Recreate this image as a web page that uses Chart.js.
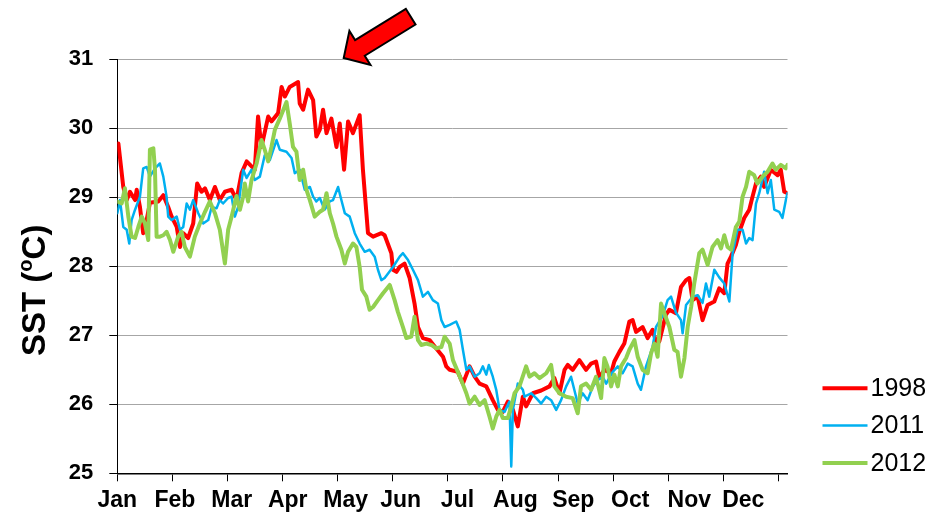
<!DOCTYPE html>
<html>
<head>
<meta charset="utf-8">
<script src="https://cdn.jsdelivr.net/npm/chart.js@4.4.1/dist/chart.umd.min.js"></script>
<style>
html,body{margin:0;padding:0;background:#fff;}
#wrap{width:944px;height:512px;position:relative;}
</style>
</head>
<body>
<div id="wrap"><canvas id="c"></canvas></div>
<script>
// ---- data ----
const monthLabels = ['Jan','Feb','Mar','Apr','May','Jun','Jul','Aug','Sep','Oct','Nov','Dec'];
const monthStartDays = [0,30.42,60.83,91.25,121.67,152.08,182.5,212.92,243.33,273.75,304.17,334.58,365];
const monthLabelDays = [0,31.8,63.2,94.1,126.1,156.4,187.8,219.8,251.7,283.2,315.8,345.6];
const yTicks = [25,26,27,28,29,30,31];
const seriesNames = ['1998','2011','2012'];
const seriesColors = ['#ff0000','#00b0f0','#92d050'];
const arrowTip = {x:125, y:31.02};

const days1998 = [0.6,3.3,5.2,7.0,9.8,10.7,12.5,14.3,16.2,18.0,
22.6,25.4,28.1,30.0,32.8,34.6,36.4,39.1,41.9,44.1,
46.5,48.4,51.1,53.9,56.6,59.4,63.1,65.8,68.6,71.4,
75.9,77.7,79.6,83.3,85.1,88.8,90.7,92.5,95.2,99.8,
100.7,102.6,105.3,108.1,109.9,111.8,113.6,115.5,118.2,121.0,
122.8,125.2,127.4,130.1,133.8,135.6,138.4,141.2,145.8,147.6,
151.3,152.2,154.1,155.9,158.6,161.4,164.1,166.0,168.7,172.4,
176.1,179.8,181.6,183.5,188.0,190.8,194.5,197.3,200.0,203.7,
207.3,210.1,212.8,215.6,218.4,221.1,223.9,225.7,229.4,234.0,
238.6,241.3,244.1,246.9,248.7,251.4,255.1,258.8,261.6,264.3,
266.2,268.9,272.6,274.4,277.2,279.9,282.7,284.5,286.4,290.0,
292.8,295.5,297.4,299.2,302.9,304.8,308.4,311.2,314.0,315.8,
317.6,320.4,323.1,325.9,329.6,332.3,335.1,336.9,338.8,341.5,
343.4,346.1,348.9,350.7,352.6,355.3,357.1,360.8,364.5,366.3,
368.2,370.0];
const sst1998 = [29.78,29.15,28.96,29.08,28.96,29.11,28.86,28.48,28.67,28.92,
28.94,29.03,28.86,28.72,28.57,28.28,28.48,28.41,28.62,29.20,
29.08,29.13,28.96,29.15,28.96,29.08,29.11,28.96,29.35,29.52,
29.40,30.17,29.73,30.17,30.10,30.22,30.60,30.46,30.60,30.67,
30.36,30.27,30.56,30.41,29.88,29.98,30.27,29.93,30.14,29.73,
30.07,29.40,30.10,29.93,30.19,29.40,28.48,28.43,28.48,28.45,
28.19,27.95,27.92,27.99,28.04,27.83,27.46,27.12,26.96,26.93,
26.81,26.69,26.55,26.50,26.47,26.30,26.55,26.40,26.30,26.26,
26.06,25.92,25.89,26.04,25.92,25.68,26.11,25.97,26.16,26.20,
26.26,26.38,26.16,26.50,26.57,26.50,26.64,26.50,26.59,26.62,
26.38,26.50,26.45,26.62,26.76,26.88,27.20,27.22,27.05,27.12,
26.96,27.08,26.91,26.91,27.30,27.37,27.32,27.70,27.80,27.83,
27.51,27.56,27.22,27.44,27.49,27.68,27.61,28.04,28.14,28.31,
28.50,28.70,28.82,29.01,29.20,29.30,29.15,29.40,29.32,29.40,
29.08,29.06];

const days2011 = [0,1.5,3.3,5.2,6.6,7.9,9.8,12.5,14.3,16.2,
18.0,20.8,23.5,25.4,27.2,28.1,30.0,32.8,34.6,36.4,
38.3,40.1,41.9,44.7,47.4,50.2,52.1,54.8,56.6,58.4,
61.2,63.1,64.9,66.7,69.5,71.4,74.1,75.9,78.7,81.4,
84.2,87.9,89.7,93.4,96.2,98.0,100.7,103.5,106.3,108.1,
109.9,111.8,114.5,117.3,119.1,121.9,123.7,125.6,128.3,131.1,
133.8,136.6,139.3,142.1,143.9,145.8,147.6,152.2,155.9,157.7,
160.5,163.2,166.0,168.7,171.5,174.2,177.0,178.9,180.7,183.5,
187.1,189.0,190.8,192.7,194.5,197.3,200.0,201.8,203.7,205.1,
207.3,209.2,211.0,213.8,216.5,217.5,218.4,221.1,223.9,224.8,
228.5,231.3,234.0,236.8,239.5,242.3,245.0,247.8,250.5,252.3,
254.2,256.9,259.7,262.5,265.2,268.0,269.9,273.5,276.3,279.0,
281.8,284.5,287.3,289.1,291.9,295.5,297.4,301.1,303.8,305.7,
308.4,311.2,312.1,314.0,317.6,320.4,323.1,325.0,326.8,329.6,
332.3,335.1,337.9,339.7,342.4,345.2,347.1,348.9,350.7,352.6,
354.4,357.1,359.0,360.8,362.7,365.4,367.2,369.1,370.0];
const sst2011 = [28.77,28.96,28.57,28.53,28.33,28.67,28.82,29.01,29.42,29.44,
29.30,29.42,29.49,29.30,29.01,28.72,28.67,28.72,28.53,28.57,
28.91,28.82,28.96,28.77,28.62,28.67,28.86,28.84,28.96,28.91,
28.99,29.01,28.72,28.86,29.40,29.28,29.40,29.25,29.30,29.61,
29.54,29.83,29.69,29.66,29.57,29.35,29.40,29.11,29.15,29.01,
28.94,28.99,28.82,28.94,28.96,29.15,28.96,28.77,28.72,28.48,
28.33,28.21,28.24,28.14,27.95,27.80,27.83,27.99,28.14,28.19,
28.09,27.95,27.80,27.56,27.63,27.51,27.46,27.22,27.12,27.15,
27.20,27.08,26.79,26.50,26.55,26.40,26.45,26.55,26.43,26.57,
26.40,26.21,25.92,25.89,26.04,25.10,25.92,26.30,26.21,26.11,
26.16,26.09,26.01,26.11,26.06,25.92,26.06,26.26,26.40,26.21,
26.01,26.16,26.06,26.26,26.35,26.40,26.30,26.47,26.55,26.45,
26.59,26.55,26.30,26.21,26.55,26.83,27.12,27.28,27.51,27.56,
27.33,27.22,27.03,27.44,27.56,27.58,27.47,27.75,27.56,27.95,
27.84,27.75,27.49,28.19,28.53,28.53,28.33,28.41,28.38,28.91,
29.06,29.37,29.06,29.25,28.82,28.79,28.70,28.96,29.06];

const days2012 = [0,2.4,4.2,6.1,7.9,9.8,11.6,13.5,15.3,17.1,
18.0,19.9,20.8,21.7,23.5,25.4,27.2,29.1,30.9,33.6,
35.5,37.3,40.1,42.8,45.6,48.4,51.1,53.9,56.6,59.4,
61.2,63.1,65.8,67.7,69.5,70.4,72.2,74.1,76.9,79.6,
81.4,83.3,85.1,87.0,89.7,93.4,95.2,97.0,98.9,100.7,
102.6,104.4,106.3,109.0,111.8,113.6,115.5,117.3,119.1,121.0,
123.7,125.6,127.4,130.1,132.0,133.8,135.1,137.5,139.3,141.2,
143.9,146.7,150.4,153.1,154.9,157.7,159.6,162.3,164.1,166.0,
167.8,170.6,173.4,176.1,178.9,180.7,183.5,185.3,188.0,189.9,
192.7,194.5,197.3,200.0,202.8,205.5,207.3,209.2,211.0,212.8,
215.6,217.5,219.3,222.0,225.7,227.6,230.3,233.1,236.8,239.5,
241.3,244.1,247.8,251.4,254.2,256.0,258.8,261.6,264.3,267.1,
268.9,270.7,272.6,274.4,276.3,278.1,280.9,282.7,285.5,287.3,
290.0,292.8,294.7,296.5,298.3,300.2,302.0,304.8,307.5,309.3,
311.2,313.1,314.9,316.8,318.5,321.3,323.1,325.9,328.6,331.4,
333.3,335.1,336.9,338.8,341.5,343.4,345.2,347.1,348.9,351.6,
353.4,356.2,359.0,361.7,363.6,366.3,369.1,370.0];
const sst2012 = [28.94,28.91,29.13,28.72,28.43,28.41,28.57,28.72,28.62,28.38,
29.69,29.71,29.40,28.43,28.43,28.45,28.50,28.38,28.21,28.43,
28.50,28.28,28.14,28.43,28.62,28.79,28.94,28.77,28.53,28.04,
28.53,28.72,29.02,28.82,29.01,29.20,28.94,29.25,29.49,29.83,
29.69,29.52,29.73,29.98,30.14,30.38,30.07,29.73,29.66,29.25,
29.40,29.11,28.96,28.72,28.79,28.82,29.06,28.77,28.62,28.43,
28.24,28.04,28.21,28.33,28.28,27.99,27.66,27.56,27.37,27.41,
27.51,27.61,27.73,27.51,27.34,27.12,26.96,26.98,27.27,26.93,
26.86,26.88,26.86,26.81,26.83,26.98,26.88,26.64,26.47,26.35,
26.16,26.01,26.11,25.99,26.06,25.82,25.65,25.82,25.92,25.80,
25.80,25.97,26.16,26.26,26.55,26.40,26.45,26.38,26.45,26.57,
26.26,26.16,26.11,26.09,25.87,26.26,26.30,26.21,26.40,26.09,
26.67,26.54,26.26,26.43,26.26,26.55,26.67,26.79,26.93,26.69,
26.50,26.45,26.74,26.88,26.69,27.46,27.32,27.12,26.79,26.76,
26.40,26.67,27.12,27.41,27.75,28.19,28.24,28.02,28.28,28.38,
28.26,28.45,28.28,28.24,28.57,28.65,29.01,29.15,29.37,29.32,
29.20,29.30,29.37,29.49,29.40,29.47,29.42,29.47];

function toPoints(xs, ys){ return xs.map((x,i)=>({x:x, y:ys[i]})); }

const FONT = '"Liberation Sans", Arial, Helvetica, sans-serif';

const overlay = {
  id: 'overlay',
  afterDraw(chart){
    const {ctx, chartArea, scales} = chart;
    // legend
    ctx.save();
    const lx = chartArea.right + 35, ly0 = chartArea.bottom - 85, gap = 37.3;
    chart.data.datasets.forEach((ds,i)=>{
      const y = ly0 + i*gap;
      ctx.strokeStyle = ds.borderColor;
      ctx.lineWidth = ds.borderWidth;
      ctx.lineCap = 'butt';
      ctx.beginPath(); ctx.moveTo(lx, y); ctx.lineTo(lx+45, y); ctx.stroke();
      ctx.fillStyle = '#000';
      ctx.font = '25px ' + FONT;
      ctx.textAlign = 'left'; ctx.textBaseline = 'middle';
      ctx.fillText(ds.label, lx+48, y+1);
    });
    ctx.restore();

    // y axis title  SST (oC)
    ctx.save();
    ctx.translate(chartArea.left - 72, chartArea.top + 231);
    ctx.rotate(-Math.PI/2);
    ctx.fillStyle = '#000';
    ctx.textAlign = 'left'; ctx.textBaseline = 'alphabetic';
    const big = 'bold 33px ' + FONT, small = 'bold 20px ' + FONT;
    ctx.font = big; const w1 = ctx.measureText('SST (').width;
    ctx.font = small; const w2 = ctx.measureText('o').width;
    ctx.font = big; const w3 = ctx.measureText('C)').width;
    let x0 = -(w1+w2+w3)/2;
    ctx.font = big; ctx.fillText('SST (', x0, 0);
    ctx.font = small; ctx.fillText('o', x0 + w1, -13);
    ctx.font = big; ctx.fillText('C)', x0 + w1 + w2, 0);
    ctx.restore();

    // arrow
    const tx = scales.x.getPixelForValue(arrowTip.x);
    const ty = scales.y.getPixelForValue(arrowTip.y);
    const u = [0.853,-0.526], n = [0.526,0.853];
    const shape = [[0,0],[19,-20],[19,-9.2],[78.5,-9.2],[78.5,9.2],[19,9.2],[19,20]];
    ctx.save();
    ctx.beginPath();
    shape.forEach((p,i)=>{
      const px = tx + p[0]*u[0] + p[1]*n[0];
      const py = ty + p[0]*u[1] + p[1]*n[1];
      if(i===0) ctx.moveTo(px,py); else ctx.lineTo(px,py);
    });
    ctx.closePath();
    ctx.fillStyle = '#ff0000'; ctx.fill();
    ctx.lineWidth = 2; ctx.strokeStyle = '#000'; ctx.lineJoin = 'miter'; ctx.stroke();
    ctx.restore();
  }
};

new Chart(document.getElementById('c'), {
  type: 'line',
  data: {
    datasets: [
      {label: seriesNames[0], data: toPoints(days1998, sst1998), borderColor: seriesColors[0], borderWidth: 4, order: 2, xAxisID:'x', yAxisID:'y'},
      {label: seriesNames[1], data: toPoints(days2011, sst2011), borderColor: seriesColors[1], borderWidth: 2.5, order: 1, xAxisID:'x', yAxisID:'y'},
      {label: seriesNames[2], data: toPoints(days2012, sst2012), borderColor: seriesColors[2], borderWidth: 4, order: 0, xAxisID:'x', yAxisID:'y'}
    ]
  },
  options: {
    responsive: true,
    maintainAspectRatio: false,
    animation: false,
    devicePixelRatio: 1,
    layout: {padding: {left: 0, right: 156.5, top: 59.3, bottom: 0}},
    elements: {
      point: {radius: 0, hoverRadius: 0},
      line: {tension: 0, fill: false, borderJoinStyle: 'round', borderCapStyle: 'round'}
    },
    plugins: {legend: {display: false}, tooltip: {enabled: false}},
    scales: {
      x: {
        type: 'linear', position: 'bottom', min: 0, max: 370, weight: 0,
        afterBuildTicks(s){ s.ticks = monthStartDays.map(v=>({value:v})); },
        ticks: {display: false},
        grid: {drawOnChartArea: false, drawTicks: true, tickLength: 8, color: '#000', lineWidth: 1},
        border: {display: true, color: '#000', width: 1.5},
        afterFit(s){ s.height = 8; }
      },
      xl: {
        type: 'linear', position: 'bottom', min: 0, max: 370, weight: 1,
        afterBuildTicks(s){ s.ticks = monthLabelDays.map(v=>({value:v})); },
        ticks: {autoSkip: false, maxRotation: 0, padding: 6, color: '#000',
                font: {family: FONT, size: 23, weight: 'bold'},
                callback: (v,i)=>monthLabels[i]},
        grid: {display: false, drawTicks: false},
        border: {display: false},
        afterFit(s){ s.height = 512 - 473.3 - 8; }
      },
      y: {
        type: 'linear', min: 25, max: 31,
        afterBuildTicks(s){ s.ticks = yTicks.map(v=>({value:v})); },
        ticks: {padding: 16, color: '#000', font: {family: FONT, size: 22, weight: 'bold'}},
        grid: {color: '#a6a6a6', tickColor: '#000', tickLength: 8, lineWidth: 1},
        border: {display: true, color: '#000', width: 1},
        afterFit(s){ s.width = 117.3; }
      }
    }
  },
  plugins: [overlay]
});
</script>
</body>
</html>
